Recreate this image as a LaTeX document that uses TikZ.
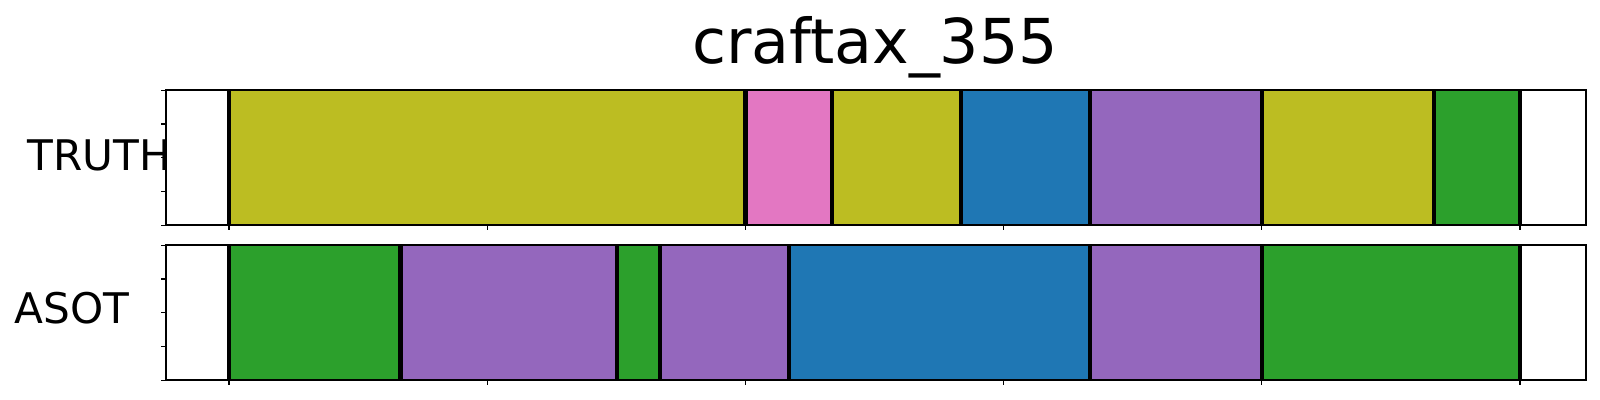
\documentclass[tikz,border=0pt]{standalone}
\usepackage{fontspec}
\setmainfont{DejaVu Sans}
\definecolor{tabolive}{HTML}{BCBD22}
\definecolor{tabpink}{HTML}{E377C2}
\definecolor{tabblue}{HTML}{1F77B4}
\definecolor{tabpurple}{HTML}{9467BD}
\definecolor{tabgreen}{HTML}{2CA02C}
\tikzset{
  seg/.style={draw=none},
  bound/.style={line width=4.5*0.2845pt, black},
  frame/.style={line width=0.6pt, black},
  tick/.style={line width=0.35pt, black},
  lbl/.style={font=\fontsize{12}{12}\selectfont, anchor=base, inner sep=0pt},
  ttl/.style={font=\fontsize{17.6}{17.6}\selectfont, anchor=base, inner sep=0pt}
}
\begin{document}
\begin{tikzpicture}[x=0.01cm,y=-0.01cm]
\useasboundingbox (0,0) rectangle (1600,400);
% title and labels
\node[ttl] (title) at (875,63) {craftax\_355};
\node[lbl] (truth) at (99,170) {TRUTH};
\node[lbl] (asot) at (72,323.3) {ASOT};
% top row segments
\def\ta{90.3}\def\tb{225.3}
\fill[tabolive] (229,\ta) rectangle (745.7,\tb);
\fill[tabpink] (745.7,\ta) rectangle (832,\tb);
\fill[tabolive] (832,\ta) rectangle (961,\tb);
\fill[tabblue] (961,\ta) rectangle (1090,\tb);
\fill[tabpurple] (1090,\ta) rectangle (1262,\tb);
\fill[tabolive] (1262,\ta) rectangle (1434,\tb);
\fill[tabgreen] (1434,\ta) rectangle (1520,\tb);
\foreach \x in {229,745.7,832,961,1090,1262,1434,1520}
  \draw[bound] (\x,\ta) -- (\x,\tb);
% bottom row segments
\def\ba{245.3}\def\bb{380.3}
\fill[tabgreen] (229,\ba) rectangle (400.7,\bb);
\fill[tabpurple] (400.7,\ba) rectangle (617,\bb);
\fill[tabgreen] (617,\ba) rectangle (660,\bb);
\fill[tabpurple] (660,\ba) rectangle (789,\bb);
\fill[tabblue] (789,\ba) rectangle (1090,\bb);
\fill[tabpurple] (1090,\ba) rectangle (1262,\bb);
\fill[tabgreen] (1262,\ba) rectangle (1520,\bb);
\foreach \x in {229,400.7,617,660,789,1090,1262,1520}
  \draw[bound] (\x,\ba) -- (\x,\bb);
% frames
\draw[frame] (165.7,\ta) rectangle (1585.7,\tb);
\draw[frame] (165.7,\ba) rectangle (1585.7,\bb);
% ticks
\foreach \k in {0,...,5}{
  \draw[tick] (229+\k*258.2,\tb) -- ++(0,5);
  \draw[tick] (229+\k*258.2,\bb) -- ++(0,5);
}
\foreach \k in {0,...,4}{
  \draw[tick] (165.7,\ta+\k*33.75) -- ++(-5,0);
  \draw[tick] (165.7,\ba+\k*33.75) -- ++(-5,0);
}
\end{tikzpicture}
\end{document}
